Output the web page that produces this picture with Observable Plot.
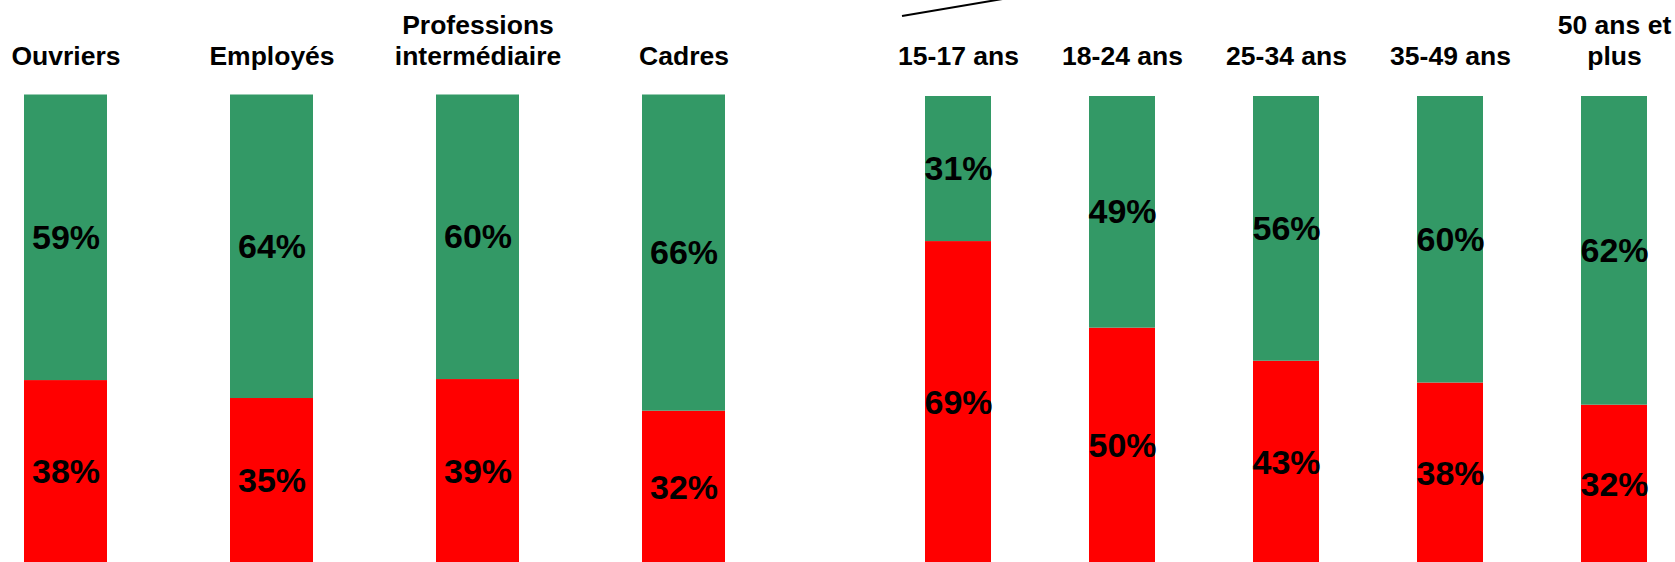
<!DOCTYPE html>
<html><head><meta charset="utf-8">
<script src="https://cdn.jsdelivr.net/npm/d3@7"></script>
<script src="https://cdn.jsdelivr.net/npm/@observablehq/plot@0.6"></script>
<style>
html,body{margin:0;padding:0;background:#fff;overflow:hidden;}
#wrap{position:relative;width:1675px;height:562px;display:flex;font-family:"Liberation Sans",Arial,sans-serif;}
#left{width:760px;height:562px;}
#right{width:915px;height:562px;}
#deco{position:absolute;left:902px;top:15px;width:120px;height:2px;background:#000;transform-origin:0 50%;transform:rotate(-9.6deg);}
</style></head><body>
<div id="wrap"><div id="left"></div><div id="right"></div><div id="deco"></div></div>
<script>
const csp = ["Ouvriers", "Employés", "Professions\nintermédiaire", "Cadres"];
const cspPositive = [59, 64, 60, 66];
const cspNegative = [38, 35, 39, 32];
const ages = ["15-17 ans", "18-24 ans", "25-34 ans", "35-49 ans", "50 ans et\nplus"];
const agePositive = [31, 49, 56, 60, 62];
const ageNegative = [69, 50, 43, 38, 32];
const parts = ["neg", "pos"];
const partColors = ["#ff0000", "#339966"];

function rowsOf(cats, pos, neg) {
  const rows = [];
  cats.forEach((c, i) => {
    rows.push({cat: c, part: "neg", value: neg[i]});
    rows.push({cat: c, part: "pos", value: pos[i]});
  });
  return rows;
}

function chart(cats, pos, neg, width, range, top) {
  const rows = rowsOf(cats, pos, neg);
  const st = {x: "cat", y: "value", z: "part", order: parts, offset: "normalize"};
  return Plot.plot({
    width, height: 562,
    marginTop: 67, marginBottom: 0, marginLeft: 0, marginRight: 0,
    style: {fontFamily: "'Liberation Sans', Arial, sans-serif", background: "transparent"},
    x: {domain: cats, range, paddingInner: 0.598, paddingOuter: 0.1, align: 0.5, axis: null, label: null},
    y: {domain: [0, 1], range: [564, top], axis: null},
    color: {domain: parts, range: partColors},
    marks: [
      Plot.barY(rows, Plot.stackY({...st, fill: "part"})),
      Plot.text(rows, Plot.stackY({...st, text: d => d.value + "%", fill: "#000", fontSize: 34, fontWeight: "bold"})),
      Plot.axisX({anchor: "top", tickSize: 0, tickPadding: 3, fontSize: 26.5, fontWeight: "bold", lineHeight: 1.17, label: null, fill: "#000", color: "#000"})
    ]
  });
}

document.getElementById("left").append(chart(csp, cspPositive, cspNegative, 760, [3.7, 745.9], 94.5));
document.getElementById("right").append(chart(ages, agePositive, ageNegative, 915, [146.8, 904.6], 96));
</script>
</body></html>
